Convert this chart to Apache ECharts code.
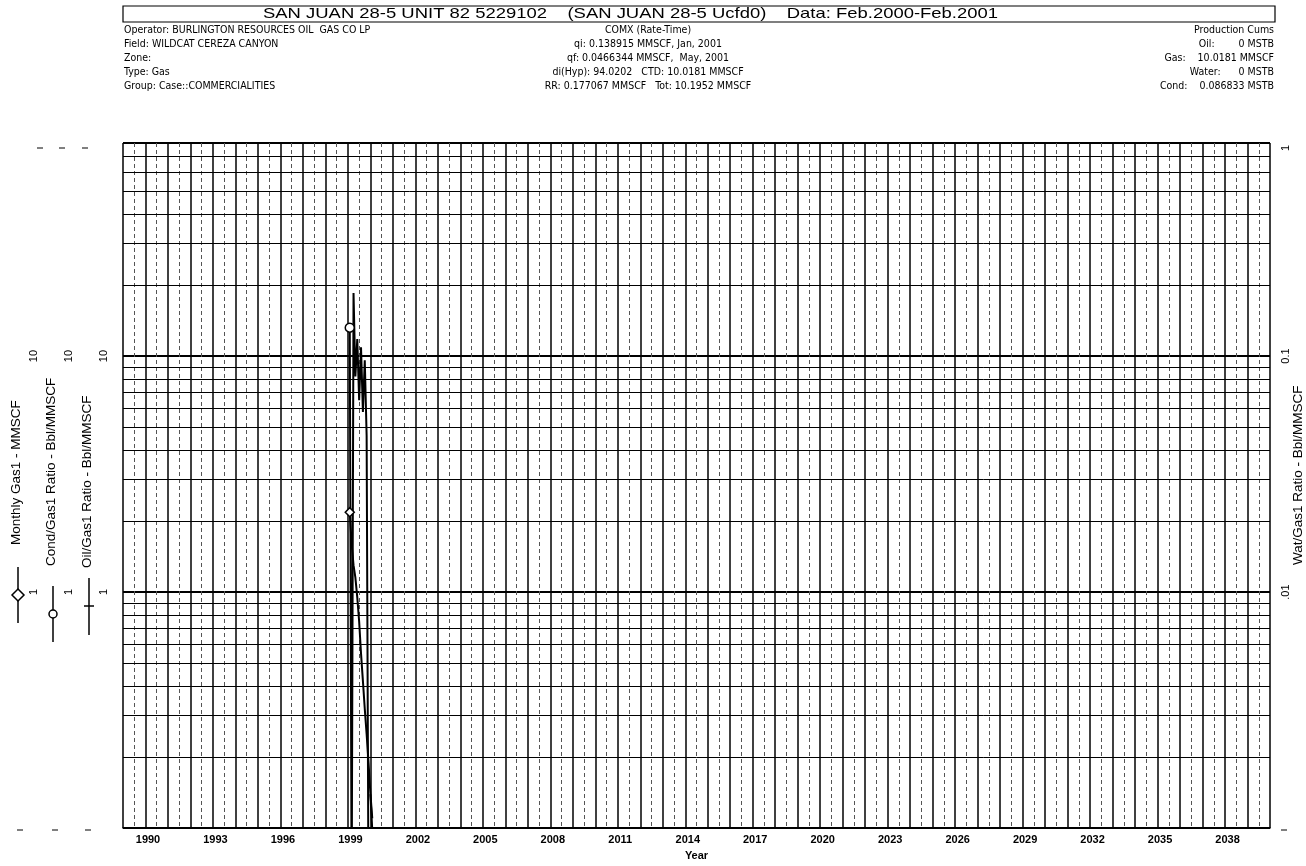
<!DOCTYPE html>
<html><head><meta charset="utf-8">
<script src="https://cdn.jsdelivr.net/npm/echarts@6/dist/echarts.min.js"></script>
<style>html,body{margin:0;padding:0;background:#fff}#c{width:1306px;height:866px}</style>
</head><body><div id="c"></div>
<script>
// ---- data ----
const prodYears   = [2000.083, 2000.167, 2000.25, 2000.333, 2000.417, 2000.5, 2000.583, 2000.667, 2000.75, 2000.833, 2000.917, 2001.0, 2001.083];
const gasMonthly  = [2.18, 1.6, 1.3, 1.15, 0.95, 0.75, 0.55, 0.42, 0.32, 0.25, 0.19, 0.14, 0.11];
const condRatio   = [13.2, 0.05, 18.5, 8.2, 11.8, 6.5, 10.9, 5.8, 9.6, 4.6, 0.05, 0.05, 0.05];
const fcstYears   = [2001.0, 2001.083, 2001.167, 2001.25, 2001.333];
const fcstGas     = [0.139, 0.098, 0.075, 0.058, 0.0466];
const minorLevels = [0.2,0.3,0.4,0.5,0.6,0.7,0.8,0.9,2,3,4,5,6,7,8,9,20,30,40,50,60,70];
const xMin = 1990, xMax = 2041, labelStep = 3, lastLabel = 2038;
const leftMin = 0.1, leftMax = 80, rightMin = 0.001, rightMax = 0.8;

const headerLeft = ['Operator: BURLINGTON RESOURCES OIL  GAS CO LP','Field: WILDCAT CEREZA CANYON','Zone:','Type: Gas','Group: Case::COMMERCIALITIES'];
const headerMid  = ['COMX (Rate-Time)','qi: 0.138915 MMSCF, Jan, 2001','qf: 0.0466344 MMSCF,  May, 2001','di(Hyp): 94.0202   CTD: 10.0181 MMSCF','RR: 0.177067 MMSCF   Tot: 10.1952 MMSCF'];
const headerRight= ['Production Cums','Oil:        0 MSTB','Gas:    10.0181 MMSCF','Water:      0 MSTB','Cond:    0.086833 MSTB'];
const title = 'SAN JUAN 28-5 UNIT 82 5229102    (SAN JUAN 28-5 Ucfd0)    Data: Feb.2000-Feb.2001';

const NARROW = "'Liberation Sans Narrow','Arial Narrow','DejaVu Sans Condensed','Liberation Sans',Arial,sans-serif";
const SANS = "'Liberation Sans',Arial,sans-serif";

const chart = echarts.init(document.getElementById('c'));
const mctx = document.createElement('canvas').getContext('2d');
function textW(t, size, fam, weight){ mctx.font = (weight||'normal')+' '+size+'px '+fam; return mctx.measureText(t).width; }

function near(a,b){return Math.abs(a-b) < 1e-6*Math.max(1,Math.abs(b));}

function leftAxis(offset, split){
  return {
    type:'log', logBase:10, min:leftMin, max:leftMax, position:'left', offset:offset,
    axisLine:{show:false}, axisTick:{show:false},
    axisLabel:{rotate:90, margin:14, fontSize:11, color:'#000', fontFamily:SANS,
      formatter: v => near(v,10)?'10':(near(v,1)?'1':'')},
    splitLine:{show:split, lineStyle:{color:'#000', width:2}}
  };
}

const graphics = [];
graphics.push({type:'rect', shape:{x:123, y:6, width:1152, height:16}, style:{fill:'none', stroke:'#000', lineWidth:1.2}});
const titleScale = 735 / textW(title, 15, SANS);
graphics.push({type:'text', x:263, y:14, scaleX:titleScale, style:{text:title, fontSize:15, fontFamily:SANS, fill:'#000', align:'left', verticalAlign:'middle'}});
const rowY = [30, 44, 58, 72, 86];
headerLeft.forEach((t,i)=>graphics.push({type:'text', x:124, y:rowY[i], style:{text:t, fontSize:10.5, fontFamily:NARROW, fill:'#000', align:'left', verticalAlign:'middle'}}));
headerMid.forEach((t,i)=>graphics.push({type:'text', x:648, y:rowY[i], style:{text:t, fontSize:10.5, fontFamily:NARROW, fill:'#000', align:'center', verticalAlign:'middle'}}));
headerRight.forEach((t,i)=>graphics.push({type:'text', x:1274, y:rowY[i], style:{text:t, fontSize:10.5, fontFamily:NARROW, fill:'#000', align:'right', verticalAlign:'middle'}}));

// axis names (rotated, reading bottom-to-top, anchored at their lower end)
const names = [['Monthly Gas1 - MMSCF',16,545],['Cond/Gas1 Ratio - Bbl/MMSCF',51,566],['Oil/Gas1 Ratio - Bbl/MMSCF',87,568],['Wat/Gas1 Ratio - Bbl/MMSCF',1298,565]];
names.forEach(n=>graphics.push({type:'text', x:n[1], y:n[2], rotation:Math.PI/2, style:{text:n[0], fontSize:13.5, fontFamily:SANS, fill:'#000', align:'left', verticalAlign:'middle'}}));
graphics.push({type:'text', x:1286, y:148, rotation:Math.PI/2, style:{text:'1', fontSize:11, fontFamily:SANS, fill:'#000', align:'center', verticalAlign:'middle'}});

// legend markers
graphics.push({type:'line', shape:{x1:18,y1:567,x2:18,y2:623}, style:{stroke:'#000', lineWidth:1.5}});
graphics.push({type:'polygon', shape:{points:[[18,589],[24,595],[18,601],[12,595]]}, style:{fill:'#fff', stroke:'#000', lineWidth:1.5}});
graphics.push({type:'line', shape:{x1:53,y1:586,x2:53,y2:642}, style:{stroke:'#000', lineWidth:1.5}});
graphics.push({type:'circle', shape:{cx:53,cy:614,r:4}, style:{fill:'#fff', stroke:'#000', lineWidth:1.5}});
graphics.push({type:'line', shape:{x1:89,y1:578,x2:89,y2:635}, style:{stroke:'#000', lineWidth:1.5}});
graphics.push({type:'line', shape:{x1:84,y1:606,x2:94,y2:606}, style:{stroke:'#000', lineWidth:1.5}});
// small end ticks of the axes
[[40,148],[62,148],[85,148],[20,830],[55,830],[88,830],[1284,830]].forEach(p=>graphics.push({type:'line', shape:{x1:p[0]-3,y1:p[1],x2:p[0]+3,y2:p[1]}, style:{stroke:'#000', lineWidth:1}}));

function withFirstSymbol(xs, ys, sym){
  return xs.map((x,i)=> i===0 ? {value:[x,ys[i]], symbol:sym, symbolSize:9, itemStyle:{color:'#fff', borderColor:'#000', borderWidth:1.5}} : {value:[x,ys[i]]});
}

chart.setOption({
  animation:false,
  backgroundColor:'#fff',
  grid:{left:123, right:36, top:143, bottom:36, containLabel:false},
  xAxis:{
    type:'value', min:xMin, max:xMax, interval:1,
    name:'Year', nameLocation:'middle', nameGap:22,
    nameTextStyle:{fontSize:11, fontWeight:'bold', fontFamily:SANS, color:'#000'},
    axisLine:{show:true, lineStyle:{color:'#000', width:1.5}},
    axisTick:{show:false},
    axisLabel:{fontSize:11, fontWeight:'bold', fontFamily:SANS, color:'#000', margin:6, padding:[0,0,0,50],
      formatter: v => { const y = Math.round(v); return ((y-xMin)%labelStep===0 && y<=lastLabel) ? String(y) : ''; }},
    splitLine:{show:true, lineStyle:{color:'#000', width:1.5}},
    minorTick:{show:false, splitNumber:2},
    minorSplitLine:{show:true, lineStyle:{color:'#555', width:1, type:[4,3]}}
  },
  yAxis:[
    leftAxis(70, true),
    leftAxis(35, false),
    leftAxis(0, false),
    {type:'log', logBase:10, min:rightMin, max:rightMax, position:'right', offset:0,
     axisLine:{show:false}, axisTick:{show:false}, splitLine:{show:false},
     axisLabel:{rotate:90, margin:10, fontSize:11, color:'#000', fontFamily:SANS,
       formatter: v => near(v,0.1)?'0.1':(near(v,0.01)?'.01':'')}}
  ],
  series:[
    {name:'Monthly Gas1', type:'line', yAxisIndex:0, data:withFirstSymbol(prodYears, gasMonthly, 'diamond'),
     symbol:'none', lineStyle:{color:'#000', width:2}, itemStyle:{color:'#000'}, clip:true,
     markLine:{silent:true, symbol:['none','none'], label:{show:false}, lineStyle:{type:'solid', color:'#000', width:1}, emphasis:{disabled:true},
       data:minorLevels.map(v=>({yAxis:v}))}},
    {name:'Cond/Gas1 Ratio', type:'line', yAxisIndex:1, data:withFirstSymbol(prodYears, condRatio, 'circle'),
     symbol:'none', lineStyle:{color:'#000', width:2}, itemStyle:{color:'#000'}, clip:true},
    {name:'Gas forecast', type:'line', yAxisIndex:0, data:fcstYears.map((x,i)=>[x,fcstGas[i]]),
     symbol:'none', lineStyle:{color:'#000', width:2}, clip:true}
  ],
  graphic:graphics
});
</script></body></html>
